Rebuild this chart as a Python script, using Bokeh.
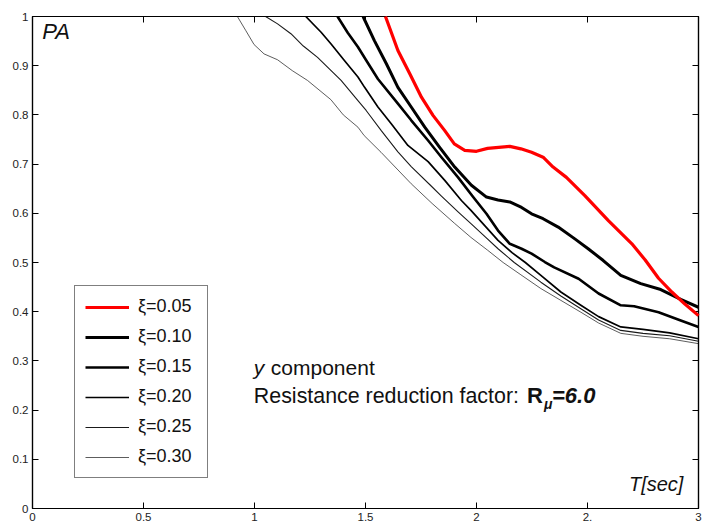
from bokeh.plotting import figure
from bokeh.models import (Range1d, LinearAxis, FixedTicker, Legend, LegendItem,
                          Label, NumeralTickFormatter)
from bokeh.embed import file_html
from bokeh.resources import INLINE

FONT = "Liberation Sans"

# ---------------- data ----------------
t_005 = [1.59, 1.646, 1.70, 1.752, 1.804, 1.857, 1.90, 1.947, 2.00, 2.05, 2.10, 2.15, 2.20,
         2.248, 2.30, 2.345, 2.405, 2.488, 2.594, 2.70, 2.76, 2.82, 2.88, 2.94, 3.00]
pa_005 = [1.00, 0.931, 0.883, 0.836, 0.799, 0.768, 0.741, 0.728, 0.726, 0.732, 0.734, 0.736, 0.731,
          0.724, 0.714, 0.694, 0.673, 0.636, 0.585, 0.538, 0.505, 0.468, 0.440, 0.415, 0.392]

t_010 = [1.489, 1.54, 1.594, 1.646, 1.706, 1.767, 1.834, 1.902, 1.977, 2.045, 2.097, 2.15, 2.203,
         2.248, 2.30, 2.368, 2.443, 2.503, 2.571, 2.65, 2.74, 2.83, 2.92, 3.00]
pa_010 = [1.00, 0.951, 0.904, 0.856, 0.816, 0.775, 0.734, 0.694, 0.657, 0.633, 0.627, 0.623, 0.612,
          0.599, 0.589, 0.572, 0.548, 0.528, 0.504, 0.474, 0.457, 0.445, 0.425, 0.409]

t_015 = [1.374, 1.42, 1.466, 1.503, 1.556, 1.646, 1.706, 1.782, 1.842, 1.917, 1.985, 2.045, 2.097,
         2.15, 2.203, 2.248, 2.308, 2.35, 2.46, 2.55, 2.65, 2.71, 2.82, 2.92, 3.00]
pa_015 = [1.00, 0.967, 0.938, 0.911, 0.873, 0.823, 0.789, 0.748, 0.714, 0.673, 0.633, 0.599, 0.565,
          0.538, 0.528, 0.518, 0.501, 0.490, 0.467, 0.437, 0.413, 0.411, 0.399, 0.382, 0.369]

t_020 = [1.231, 1.30, 1.345, 1.404, 1.466, 1.496, 1.556, 1.616, 1.691, 1.782, 1.857, 1.932, 1.975,
         2.037, 2.097, 2.16, 2.22, 2.29, 2.38, 2.47, 2.55, 2.65, 2.75, 2.87, 3.00]
pa_020 = [1.00, 0.968, 0.944, 0.911, 0.877, 0.856, 0.816, 0.782, 0.738, 0.705, 0.667, 0.626, 0.606,
          0.575, 0.545, 0.520, 0.500, 0.474, 0.440, 0.413, 0.390, 0.369, 0.364, 0.357, 0.345]

t_025 = [1.05, 1.104, 1.164, 1.22, 1.284, 1.39, 1.466, 1.503, 1.571, 1.646, 1.706, 1.797, 1.842,
         1.917, 1.975, 2.037, 2.097, 2.17, 2.29, 2.38, 2.47, 2.55, 2.65, 2.75, 2.87, 3.00]
pa_025 = [1.00, 0.985, 0.965, 0.940, 0.917, 0.870, 0.829, 0.809, 0.768, 0.725, 0.695, 0.655, 0.635,
          0.603, 0.579, 0.553, 0.528, 0.500, 0.460, 0.432, 0.406, 0.383, 0.362, 0.356, 0.351, 0.340]

t_030 = [0.923, 0.96, 0.998, 1.043, 1.104, 1.17, 1.239, 1.344, 1.40, 1.466, 1.494, 1.57, 1.706,
         1.80, 1.90, 1.975, 2.05, 2.12, 2.20, 2.29, 2.38, 2.47, 2.55, 2.65, 2.75, 2.87, 3.00]
pa_030 = [1.00, 0.972, 0.943, 0.924, 0.912, 0.890, 0.870, 0.831, 0.800, 0.775, 0.758, 0.724, 0.660,
          0.620, 0.580, 0.551, 0.525, 0.500, 0.475, 0.447, 0.423, 0.399, 0.377, 0.356, 0.350, 0.345, 0.335]

series_labels = ["ξ=0.05", "ξ=0.10", "ξ=0.15", "ξ=0.20", "ξ=0.25", "ξ=0.30"]
series_colors = ["#ff0000", "#000000", "#000000", "#000000", "#1a1a1a", "#333333"]
series_widths = [3.2, 3.0, 2.6, 1.7, 1.1, 0.8]

x_ticks = [0, 0.5, 1, 1.5, 2, 2.5, 3]
x_tick_labels = ["0", "0.5", "1", "1.5", "2", "2.", "3"]
y_ticks = [0, 0.1, 0.2, 0.3, 0.4, 0.5, 0.6, 0.7, 0.8, 0.9, 1]
y_tick_labels = ["0", "0.1", "0.2", "0.3", "0.4", "0.5", "0.6", "0.7", "0.8", "0.9", "1"]

# ---------------- figure ----------------
p = figure(width=714, height=524, output_backend="svg", toolbar_location=None,
           x_range=Range1d(0, 3), y_range=Range1d(0, 1),
           min_border_left=32, min_border_right=16, min_border_top=16, min_border_bottom=16)
p.grid.visible = False
p.background_fill_color = "white"
p.border_fill_color = "white"
p.outline_line_color = "black"
p.outline_line_width = 1.2


def style_axis(ax, ticks, labels, show_labels):
    ax.ticker = FixedTicker(ticks=ticks)
    ax.major_tick_in = 6
    ax.major_tick_out = 0
    ax.minor_tick_in = 0
    ax.minor_tick_out = 0
    ax.axis_line_color = "black"
    ax.axis_line_width = 1.2
    ax.major_tick_line_color = "black"
    ax.major_tick_line_width = 1
    if show_labels:
        ax.formatter = NumeralTickFormatter(format="0.[0]")
        ax.major_label_overrides = {float(t): l for t, l in zip(ticks, labels)}
        ax.major_label_text_font = FONT
        ax.major_label_text_font_size = "11.5px"
        ax.major_label_text_color = "#222222"
        ax.major_label_standoff = 4
    else:
        ax.major_label_text_font_size = "0px"
        ax.major_label_text_color = None
        ax.major_label_standoff = 0


style_axis(p.xaxis[0], x_ticks, x_tick_labels, True)
style_axis(p.yaxis[0], y_ticks, y_tick_labels, True)
top_ax = LinearAxis()
right_ax = LinearAxis()
style_axis(top_ax, x_ticks, x_tick_labels, False)
style_axis(right_ax, y_ticks, y_tick_labels, False)
p.add_layout(top_ax, "above")
p.add_layout(right_ax, "right")

# ---------------- curves ----------------
all_t = [t_005, t_010, t_015, t_020, t_025, t_030]
all_pa = [pa_005, pa_010, pa_015, pa_020, pa_025, pa_030]
renderers = []
for t, pa, c, w in zip(all_t, all_pa, series_colors, series_widths):
    r = p.line(t, pa, line_color=c, line_width=w, line_join="round")
    renderers.append(r)
renderers[0].level = "overlay"

legend = Legend(
    items=[LegendItem(label=l, renderers=[r]) for l, r in zip(series_labels, renderers)],
    location=(42, 30),
    padding=10, spacing=9, margin=0,
    glyph_width=44, glyph_height=20, label_height=20, label_width=59,
    label_standoff=9,
    label_text_font=FONT, label_text_font_size="18px", label_text_color="#111111",
    border_line_color="black", border_line_width=1,
    background_fill_color="white", background_fill_alpha=1,
)
p.add_layout(legend)

# ---------------- texts ----------------
p.add_layout(Label(x=0.044, y=0.944, text="PA", text_font=FONT, text_font_size="22px",
                   text_font_style="italic", text_color="#111111"))
p.add_layout(Label(x=2.932, y=0.028, text="T[sec]", text_font=FONT, text_font_size="20px",
                   text_font_style="italic", text_align="right", text_color="#111111"))

p.add_layout(Label(x=0.997, y=0.263, text="y", text_font=FONT, text_font_size="21px",
                   text_font_style="italic", text_color="#111111"))
p.add_layout(Label(x=1.0735, y=0.263, text="component", text_font=FONT, text_font_size="21px",
                   text_color="#111111"))
p.add_layout(Label(x=0.997, y=0.205, text="Resistance reduction factor:", text_font=FONT,
                   text_font_size="21.4px", text_color="#111111"))
p.add_layout(Label(x=2.228, y=0.205, text="R", text_font=FONT, text_font_size="22px",
                   text_font_style="bold", text_color="#111111"))
p.add_layout(Label(x=2.304, y=0.196, text="μ", text_font=FONT, text_font_size="14px",
                   text_font_style="bold italic", text_color="#111111"))
p.add_layout(Label(x=2.340, y=0.205, text="=6.0", text_font=FONT, text_font_size="22px",
                   text_font_style="bold italic", text_color="#111111"))

open("out.html", "w").write(file_html(p, INLINE))
